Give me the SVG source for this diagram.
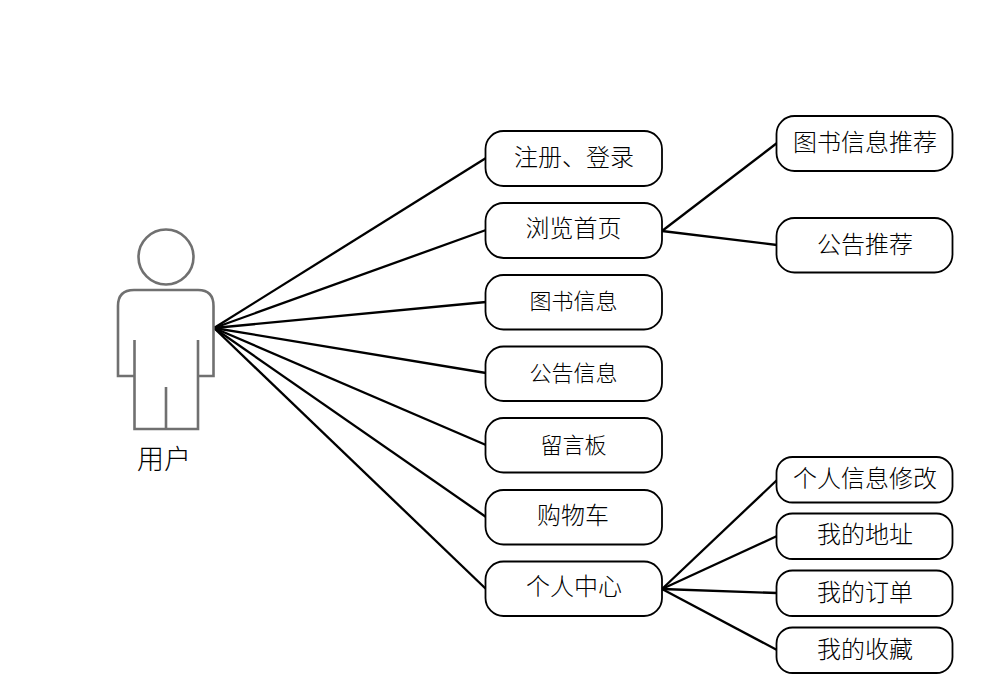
<svg xmlns="http://www.w3.org/2000/svg" width="993" height="693" viewBox="0 0 993 693">
<style>
.n{fill:#fff;stroke:#000;stroke-width:1.8}
.c line{stroke:#000;stroke-width:2.300;fill:none}
.p{fill:none;stroke:#707070;stroke-width:2.600}
text{font-family:"Noto Sans CJK SC","Noto Sans",sans-serif;font-weight:300;fill:#000;text-anchor:middle}
.a{font-size:24px}.b{font-size:22px}
</style>
<rect width="993" height="693" fill="#fff"/>
<g id="connectors" class="c">
<line x1="214" y1="328" x2="486" y2="158"/>
<line x1="214" y1="328" x2="486" y2="230"/>
<line x1="214" y1="328" x2="486" y2="302"/>
<line x1="214" y1="328" x2="486" y2="373"/>
<line x1="214" y1="328" x2="486" y2="445"/>
<line x1="214" y1="328" x2="486" y2="517"/>
<line x1="214" y1="328" x2="486" y2="589"/>
<line x1="662" y1="231" x2="777" y2="143"/>
<line x1="662" y1="231" x2="777" y2="245"/>
<line x1="662" y1="589" x2="777" y2="480"/>
<line x1="662" y1="589" x2="777" y2="536"/>
<line x1="662" y1="589" x2="777" y2="593"/>
<line x1="662" y1="589" x2="777" y2="650"/>
</g>
<g id="user">
<circle class="p" cx="166" cy="257" r="27.500"/>
<path class="p" d="M134.500 340V376H118V306Q118 290 134 290H198Q213.500 290 213.500 306V376H198V340M134.500 376V429H198V376M166 387V429"/>
<text x="164" y="469" style="font-size:27px">用户</text>
</g>
<g id="n1"><rect class="n" x="485.5" y="131" width="176.500" height="55" rx="18"/><text class="a" x="574" y="166">注册、登录</text></g>
<g id="n2"><rect class="n" x="485.5" y="203" width="176.500" height="55" rx="18"/><text class="a" x="573.500" y="237">浏览首页</text></g>
<g id="n3"><rect class="n" x="485.5" y="275" width="176.500" height="54.500" rx="18"/><text class="b" x="573.500" y="309">图书信息</text></g>
<g id="n4"><rect class="n" x="485.5" y="346.500" width="176.500" height="54.500" rx="18"/><text class="b" x="573.500" y="381">公告信息</text></g>
<g id="n5"><rect class="n" x="485.5" y="418" width="176.500" height="54.500" rx="18"/><text class="b" x="573.500" y="453">留言板</text></g>
<g id="n6"><rect class="n" x="485.5" y="490" width="176.500" height="54.500" rx="18"/><text class="a" x="573" y="524">购物车</text></g>
<g id="n7"><rect class="n" x="485.5" y="561.500" width="176.500" height="54.500" rx="18"/><text class="a" x="574" y="595">个人中心</text></g>
<g id="n8"><rect class="n" x="776.500" y="116" width="176" height="55" rx="18"/><text class="a" x="865" y="151">图书信息推荐</text></g>
<g id="n9"><rect class="n" x="776.500" y="218" width="176" height="54.500" rx="18"/><text class="a" x="865" y="253">公告推荐</text></g>
<g id="n10"><rect class="n" x="776.500" y="457" width="176" height="45.500" rx="16"/><text class="a" x="865" y="487">个人信息修改</text></g>
<g id="n11"><rect class="n" x="776.500" y="513.500" width="176" height="45.500" rx="16"/><text class="a" x="865" y="543">我的地址</text></g>
<g id="n12"><rect class="n" x="776.500" y="570.500" width="176" height="45.500" rx="16"/><text class="a" x="865" y="601">我的订单</text></g>
<g id="n13"><rect class="n" x="776.500" y="627.500" width="176" height="45.500" rx="16"/><text class="a" x="865" y="658">我的收藏</text></g>
</svg>
